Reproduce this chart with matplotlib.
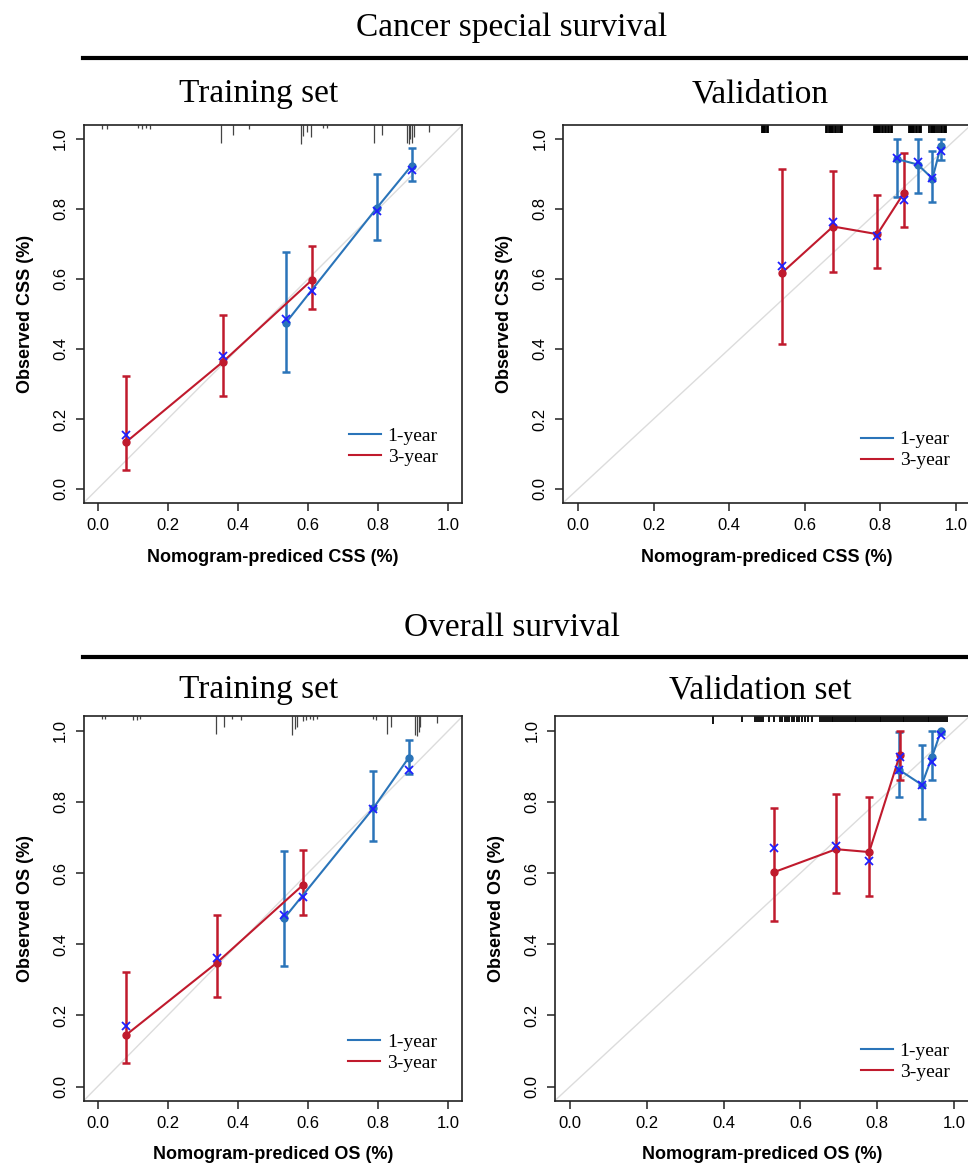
"""Calibration curves (CSS / OS, training and validation) redrawn with matplotlib."""

import matplotlib
import matplotlib.pyplot as plt
from matplotlib.lines import Line2D

matplotlib.use("Agg")

SERIF = ["Liberation Serif", "DejaVu Serif"]
SANS = ["Liberation Sans", "DejaVu Sans"]
BLUE = "#2a74b9"
RED = "#c01a2d"
XBLUE = "#1f1fff"

# ---- Cancer special survival, training set ----
css_train_1y_pred = [0.536, 0.796, 0.895]
css_train_1y_obs = [0.474, 0.803, 0.924]
css_train_1y_lo = [0.333, 0.712, 0.879]
css_train_1y_hi = [0.676, 0.901, 0.973]
css_train_1y_cor = [0.485, 0.793, 0.912]
css_train_3y_pred = [0.080, 0.358, 0.612]
css_train_3y_obs = [0.133, 0.364, 0.598]
css_train_3y_lo = [0.054, 0.267, 0.514]
css_train_3y_hi = [0.324, 0.498, 0.695]
css_train_3y_cor = [0.154, 0.381, 0.567]
css_train_rug_x = [0.012, 0.026, 0.114, 0.126, 0.138, 0.150, 0.351, 0.387, 0.432, 0.579, 0.587,
                   0.598, 0.608, 0.644, 0.653, 0.789, 0.810, 0.882, 0.887, 0.891, 0.896, 0.901, 0.946]
css_train_rug_h = [0.010, 0.010, 0.008, 0.010, 0.008, 0.010, 0.052, 0.029, 0.010, 0.055, 0.030,
                   0.020, 0.034, 0.008, 0.008, 0.052, 0.029, 0.050, 0.055, 0.040, 0.052, 0.035, 0.019]

# ---- Cancer special survival, validation ----
css_valid_1y_pred = [0.843, 0.899, 0.938, 0.960]
css_valid_1y_obs = [0.943, 0.927, 0.887, 0.979]
css_valid_1y_lo = [0.834, 0.847, 0.819, 0.939]
css_valid_1y_hi = [1.000, 1.000, 0.965, 1.000]
css_valid_1y_cor = [0.946, 0.933, 0.888, 0.965]
css_valid_3y_pred = [0.539, 0.675, 0.792, 0.863]
css_valid_3y_obs = [0.617, 0.750, 0.728, 0.847]
css_valid_3y_lo = [0.415, 0.619, 0.631, 0.748]
css_valid_3y_hi = [0.914, 0.908, 0.841, 0.960]
css_valid_3y_cor = [0.636, 0.762, 0.722, 0.827]
css_valid_rug_x = [0.487, 0.490, 0.493, 0.496, 0.499, 0.502,
                   0.657, 0.660, 0.663, 0.666, 0.669, 0.672, 0.676, 0.680, 0.684, 0.688, 0.692, 0.696, 0.699,
                   0.782, 0.785, 0.788, 0.791, 0.794, 0.797, 0.800, 0.804, 0.808, 0.812, 0.816, 0.820,
                   0.824, 0.828, 0.832,
                   0.875, 0.878, 0.881, 0.884, 0.887, 0.890, 0.894, 0.898, 0.902, 0.906, 0.909,
                   0.930, 0.933, 0.936, 0.939, 0.942, 0.945, 0.950, 0.955, 0.960, 0.964, 0.968, 0.972, 0.975]
css_valid_rug_h = [0.024] * len(css_valid_rug_x)

# ---- Overall survival, training set ----
os_train_1y_pred = [0.532, 0.786, 0.887]
os_train_1y_obs = [0.473, 0.782, 0.924]
os_train_1y_lo = [0.339, 0.691, 0.877]
os_train_1y_hi = [0.662, 0.887, 0.974]
os_train_1y_cor = [0.482, 0.779, 0.889]
os_train_3y_pred = [0.081, 0.340, 0.585]
os_train_3y_obs = [0.145, 0.348, 0.566]
os_train_3y_lo = [0.066, 0.253, 0.482]
os_train_3y_hi = [0.323, 0.481, 0.665]
os_train_3y_cor = [0.169, 0.362, 0.532]
os_train_rug_x = [0.012, 0.021, 0.102, 0.112, 0.121, 0.338, 0.361, 0.384, 0.408, 0.553, 0.563, 0.569,
                  0.585, 0.595, 0.605, 0.615, 0.625, 0.786, 0.793, 0.824, 0.836, 0.906, 0.911, 0.916,
                  0.920, 0.967]
os_train_rug_h = [0.008, 0.008, 0.010, 0.010, 0.008, 0.050, 0.030, 0.008, 0.010, 0.052, 0.035, 0.030,
                  0.012, 0.010, 0.008, 0.010, 0.008, 0.008, 0.010, 0.050, 0.030, 0.052, 0.055, 0.045,
                  0.030, 0.018]

# ---- Overall survival, validation set ----
os_valid_1y_pred = [0.857, 0.916, 0.943, 0.966]
os_valid_1y_obs = [0.890, 0.848, 0.927, 0.999]
os_valid_1y_lo = [0.815, 0.752, 0.860, 0.990]
os_valid_1y_hi = [0.997, 0.960, 1.000, 1.000]
os_valid_1y_cor = [0.890, 0.848, 0.913, 0.988]
os_valid_3y_pred = [0.530, 0.693, 0.779, 0.859]
os_valid_3y_obs = [0.602, 0.667, 0.659, 0.932]
os_valid_3y_lo = [0.464, 0.544, 0.535, 0.860]
os_valid_3y_hi = [0.782, 0.821, 0.815, 1.000]
os_valid_3y_cor = [0.670, 0.675, 0.635, 0.927]
os_valid_rug_x = [0.373, 0.447, 0.482, 0.487, 0.492, 0.497, 0.503, 0.517, 0.530,
                  0.547, 0.553, 0.559, 0.565, 0.569, 0.578, 0.584, 0.590, 0.597, 0.604, 0.612, 0.620, 0.630,
                  0.651, 0.656, 0.661, 0.666, 0.671, 0.676, 0.681, 0.686, 0.691, 0.696, 0.701, 0.706,
                  0.711, 0.716, 0.721, 0.726, 0.731, 0.736, 0.741, 0.746, 0.751, 0.756, 0.761, 0.766,
                  0.771, 0.776, 0.781, 0.786, 0.791, 0.796, 0.801, 0.806, 0.811, 0.816, 0.821, 0.826,
                  0.831, 0.836, 0.841, 0.846, 0.851, 0.856, 0.861, 0.866, 0.871, 0.876, 0.881, 0.886,
                  0.891, 0.896, 0.901, 0.906, 0.911, 0.916, 0.921, 0.926, 0.931, 0.936, 0.941, 0.946,
                  0.951, 0.956, 0.961, 0.966, 0.971, 0.976, 0.981]
os_valid_rug_h = [0.022, 0.016] + [0.016] * (len(os_valid_rug_x) - 2)

tick_values = [0.0, 0.2, 0.4, 0.6, 0.8, 1.0]
tick_labels = ["0.0", "0.2", "0.4", "0.6", "0.8", "1.0"]
legend_labels = ["1-year", "3-year"]


def draw_curve(ax, pred, obs, lo, hi, color):
    yerr = [[o - l for o, l in zip(obs, lo)], [h - o for o, h in zip(obs, hi)]]
    ax.errorbar(pred, obs, yerr=yerr, fmt="none", ecolor=color, elinewidth=1.8,
                capsize=2.8, capthick=1.8, zorder=3)
    ax.plot(pred, obs, color=color, lw=1.5, marker="o", ms=5, zorder=4)


def draw_panel(ax, curves, rug_x, rug_h, rug_color, rug_lw, what, legend_xy):
    ax.set_xlim(-0.04, 1.04)
    ax.set_ylim(-0.04, 1.04)
    ax.plot([-0.04, 1.04], [-0.04, 1.04], color="#dcdcdc", lw=1.0, zorder=1)
    ax.vlines(rug_x, [1.04 - h for h in rug_h], 1.04, color=rug_color, lw=rug_lw, zorder=2)
    for pred, obs, lo, hi, cor, color in curves:
        draw_curve(ax, pred, obs, lo, hi, color)
    for pred, obs, lo, hi, cor, color in curves:
        ax.plot(pred, cor, ls="none", marker="x", ms=6, mew=1.3, color=XBLUE, zorder=5)

    ax.set_xticks(tick_values, tick_labels)
    ax.set_yticks(tick_values, tick_labels)
    ax.tick_params(direction="out", length=6, width=1.1, labelsize=12, pad=5, color="#222222")
    ax.tick_params(axis="y", labelrotation=90)
    for label in ax.get_xticklabels() + ax.get_yticklabels():
        label.set_family(SANS)
    for label in ax.get_yticklabels():
        label.set_va("center")
    for spine in ax.spines.values():
        spine.set_linewidth(1.2)
        spine.set_color("#222222")

    ax.set_xlabel(f"Nomogram-prediced {what} (%)", family=SANS, fontsize=13,
                  fontweight="bold", labelpad=11)
    ax.set_ylabel(f"Observed {what} (%)", family=SANS, fontsize=13,
                  fontweight="bold", labelpad=14)

    handles = [Line2D([], [], color=BLUE, lw=1.5), Line2D([], [], color=RED, lw=1.5)]
    ax.legend(handles, legend_labels, loc="center left", bbox_to_anchor=legend_xy,
              frameon=False, prop={"family": SERIF, "size": 14}, handlelength=1.65,
              handletextpad=0.35, labelspacing=0.18, borderpad=0, borderaxespad=0)


fig = plt.figure(figsize=(9.68, 11.71), dpi=100)
W, H = 968, 1171


def axes_px(left, right, top, bottom):
    return fig.add_axes([left / W, 1 - bottom / H, (right - left) / W, (bottom - top) / H])


ax_tl = axes_px(83.5, 462.4, 125, 503)
ax_tr = axes_px(562.9, 971.0, 125, 503)
ax_bl = axes_px(83.5, 462.4, 716.4, 1100.9)
ax_br = axes_px(554.6, 969.4, 716.4, 1100.9)

draw_panel(ax_tl,
           [(css_train_1y_pred, css_train_1y_obs, css_train_1y_lo, css_train_1y_hi, css_train_1y_cor, BLUE),
            (css_train_3y_pred, css_train_3y_obs, css_train_3y_lo, css_train_3y_hi, css_train_3y_cor, RED)],
           css_train_rug_x, css_train_rug_h, "#444444", 0.9, "CSS", (0.70, 0.149))
draw_panel(ax_tr,
           [(css_valid_1y_pred, css_valid_1y_obs, css_valid_1y_lo, css_valid_1y_hi, css_valid_1y_cor, BLUE),
            (css_valid_3y_pred, css_valid_3y_obs, css_valid_3y_lo, css_valid_3y_hi, css_valid_3y_cor, RED)],
           css_valid_rug_x, css_valid_rug_h, "black", 1.3, "CSS", (0.730, 0.140))
draw_panel(ax_bl,
           [(os_train_1y_pred, os_train_1y_obs, os_train_1y_lo, os_train_1y_hi, os_train_1y_cor, BLUE),
            (os_train_3y_pred, os_train_3y_obs, os_train_3y_lo, os_train_3y_hi, os_train_3y_cor, RED)],
           os_train_rug_x, os_train_rug_h, "#444444", 0.9, "OS", (0.698, 0.126))
draw_panel(ax_br,
           [(os_valid_1y_pred, os_valid_1y_obs, os_valid_1y_lo, os_valid_1y_hi, os_valid_1y_cor, BLUE),
            (os_valid_3y_pred, os_valid_3y_obs, os_valid_3y_lo, os_valid_3y_hi, os_valid_3y_cor, RED)],
           os_valid_rug_x, os_valid_rug_h, "black", 1.3, "OS", (0.738, 0.102))

# section headings and rules
fig.text(512 / W, 1 - 28 / H, "Cancer special survival", family=SERIF, fontsize=24, ha="center", va="center")
fig.add_artist(Line2D([83 / W, 1.0], [1 - 58 / H] * 2, color="black", lw=3))
fig.text(259 / W, 1 - 94 / H, "Training set", family=SERIF, fontsize=24, ha="center", va="center")
fig.text(760 / W, 1 - 94 / H, "Validation", family=SERIF, fontsize=24, ha="center", va="center")

fig.text(512 / W, 1 - 628 / H, "Overall survival", family=SERIF, fontsize=24, ha="center", va="center")
fig.add_artist(Line2D([83 / W, 1.0], [1 - 657 / H] * 2, color="black", lw=3))
fig.text(259 / W, 1 - 690 / H, "Training set", family=SERIF, fontsize=24, ha="center", va="center")
fig.text(760 / W, 1 - 690 / H, "Validation set", family=SERIF, fontsize=24, ha="center", va="center")

fig.savefig("out.png", dpi=100)
plt.close(fig)
